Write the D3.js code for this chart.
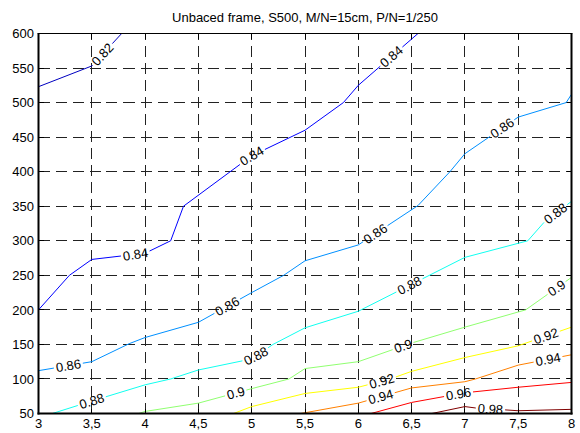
<!DOCTYPE html>
<html><head><meta charset="utf-8">
<script src="https://cdn.jsdelivr.net/npm/d3@7/dist/d3.min.js"></script>
<style>
body{margin:0;background:#fff}
text{font-family:"Liberation Sans",Arial,Helvetica,sans-serif;fill:#000}
</style>
</head><body>
<svg id="chart" width="580" height="433"></svg>
<script>
// ---------- data ----------
const title = "Unbaced frame, S500, M/N=15cm, P/N=1/250";
const xTicks = [3, 3.5, 4, 4.5, 5, 5.5, 6, 6.5, 7, 7.5, 8];
const xTickLabels = ["3", "3,5", "4", "4,5", "5", "5,5", "6", "6,5", "7", "7,5", "8"];
const yTicks = [50, 100, 150, 200, 250, 300, 350, 400, 450, 500, 550, 600];
const yTickLabels = ["50", "100", "150", "200", "250", "300", "350", "400", "450", "500", "550", "600"];
const levels = [0.82, 0.84, 0.86, 0.88, 0.9, 0.92, 0.94, 0.96, 0.98];

const c082 = [[3, 523], [3.5, 553], [3.78, 600]];
const c084 = [[3, 200], [3.29, 250], [3.5, 273], [4, 282], [4.24, 300], [4.36, 350], [5, 423], [5.5, 460], [5.86, 500], [6, 525], [6.56, 600]];
const c086 = [[3, 112], [3.5, 125], [3.85, 151], [4, 160], [4.5, 182], [5, 225], [5.3, 250], [5.5, 271], [6, 294], [6.56, 351], [6.86, 400], [7, 426], [7.5, 479], [7.95, 500], [8, 512]];
const c088 = [[3.13, 50], [3.5, 68], [4, 91.5], [4.24, 100], [4.5, 113], [5, 129], [5.2, 150], [5.5, 174], [6, 198], [7, 276], [7.59, 300], [7.75, 328], [8, 357]];
const c090 = [[3.94, 50], [4, 53], [4.5, 65], [5, 86], [5.35, 100], [5.5, 115], [6, 125], [6.5, 152], [7, 175], [7.57, 200], [8, 247]];
const c092 = [[4.83, 50], [5, 60], [5.5, 79], [6, 88], [6.3, 100], [6.5, 111], [7, 131], [7.5, 148], [8, 175]];
const c094 = [[5.46, 50], [6, 65], [6.5, 87], [7, 96], [7.1, 100], [7.5, 120], [8, 135]];
const c096 = [[6.12, 50], [6.5, 66], [7, 80], [7.5, 88], [8, 95]];
const c098 = [[6.69, 50], [7, 60], [7.1, 58], [7.5, 54], [8, 56]];
const contourLines = [c082, c084, c086, c088, c090, c092, c094, c096, c098];

// label placements (level, x position along the line)
const labelLevels = [0.82, 0.84, 0.84, 0.84, 0.86, 0.86, 0.86, 0.86, 0.88, 0.88, 0.88, 0.88, 0.9, 0.9, 0.9, 0.92, 0.92, 0.94, 0.94, 0.96, 0.98];
const labelX      = [3.60, 3.91, 5.00, 6.31, 3.28, 4.77, 6.16, 7.35, 3.50, 5.04, 6.48, 7.85, 4.85, 6.42, 7.86, 6.22, 7.76, 6.21, 7.78, 6.94, 7.24];

// ---------- styles ----------
const levelColors = ["#0000c0", "#0000ff", "#0090ff", "#10fff0", "#90ff70", "#ffff00", "#ff8000", "#ff0000", "#800000"];

const svg = d3.select("#chart");
const L = 38.5, R = 571.5, T = 33.5, B = 413.5;
const x = d3.scaleLinear().domain([3, 8]).range([L, R]);
const y = d3.scaleLinear().domain([50, 600]).range([B, T]);
const color = d3.scaleOrdinal().domain(levels).range(levelColors);

svg.append("rect").attr("width", 580).attr("height", 433).attr("fill", "#fff");

// title
svg.append("text").attr("x", (L + R) / 2).attr("y", 22).attr("text-anchor", "middle")
  .attr("font-size", 13).text(title);

// grid
const grid = svg.append("g").attr("stroke", "#222").attr("stroke-width", 1)
  .attr("stroke-dasharray", "11,6").attr("shape-rendering", "crispEdges");
xTicks.filter(v => v > 3 && v < 8).forEach(v => {
  grid.append("line").attr("x1", x(v)).attr("x2", x(v)).attr("y1", B).attr("y2", T);
});
yTicks.filter(v => v > 50 && v < 600).forEach(v => {
  grid.append("line").attr("x1", L).attr("x2", R).attr("y1", y(v)).attr("y2", y(v));
});

// contours with labels
const lineGen = d3.line().x(d => x(d[0])).y(d => y(d[1]));
const cg = svg.append("g");
const lg = svg.append("g");
contourLines.forEach((pts, i) => {
  const lev = levels[i];
  const p = cg.append("path").attr("d", lineGen(pts)).attr("fill", "none")
    .attr("stroke", color(lev)).attr("stroke-width", 1);
  const node = p.node();
  const len = node.getTotalLength();
  const gaps = [];
  labelLevels.forEach((ll, j) => {
    if (ll !== lev) return;
    const tx = x(labelX[j]);
    let lo = 0, hi = len;
    for (let k = 0; k < 40; k++) {
      const mid = (lo + hi) / 2;
      if (node.getPointAtLength(mid).x < tx) lo = mid; else hi = mid;
    }
    const s = (lo + hi) / 2;
    const t = lg.append("text").attr("font-size", 13).attr("text-anchor", "middle")
      .attr("dy", "0.35em").text(String(lev));
    const w = t.node().getComputedTextLength();
    const hw = w / 2 + 2;
    const a = node.getPointAtLength(Math.max(0, s - hw));
    const b = node.getPointAtLength(Math.min(len, s + hw));
    const ang = Math.atan2(b.y - a.y, b.x - a.x) * 180 / Math.PI;
    const pt = node.getPointAtLength(s);
    t.attr("transform", `translate(${pt.x},${pt.y}) rotate(${ang})`);
    gaps.push([Math.max(0, s - hw), Math.min(len, s + hw)]);
  });
  if (gaps.length) {
    gaps.sort((a, b) => a[0] - b[0]);
    const da = [];
    let pos = 0;
    gaps.forEach(g => { da.push(Math.max(0, g[0] - pos), g[1] - g[0]); pos = g[1]; });
    da.push(Math.max(0, len - pos), len + 10);
    p.attr("stroke-dasharray", da.join(","));
  }
});

// frame
const fr = svg.append("g").attr("stroke", "#000").attr("fill", "none");
fr.append("line").attr("x1", L - 1).attr("x2", R + 1).attr("y1", T).attr("y2", T).attr("stroke-width", 1);
fr.append("line").attr("x1", L - 1).attr("x2", R + 1).attr("y1", B).attr("y2", B).attr("stroke-width", 2);
fr.append("line").attr("x1", L).attr("x2", L).attr("y1", T).attr("y2", B + 1).attr("stroke-width", 2);
fr.append("line").attr("x1", R).attr("x2", R).attr("y1", T).attr("y2", B + 1).attr("stroke-width", 2);

// ticks (inward) on all sides
const tk = svg.append("g").attr("stroke", "#000").attr("stroke-width", 1).attr("shape-rendering", "crispEdges");
xTicks.forEach(v => {
  tk.append("line").attr("x1", x(v)).attr("x2", x(v)).attr("y1", B).attr("y2", B - 5);
  tk.append("line").attr("x1", x(v)).attr("x2", x(v)).attr("y1", T).attr("y2", T + 5);
});
yTicks.forEach(v => {
  tk.append("line").attr("x1", L).attr("x2", L + 5).attr("y1", y(v)).attr("y2", y(v));
  tk.append("line").attr("x1", R).attr("x2", R - 5).attr("y1", y(v)).attr("y2", y(v));
});

// tick labels
xTicks.forEach((v, i) => {
  svg.append("text").attr("x", x(v)).attr("y", 428).attr("text-anchor", "middle")
    .attr("font-size", 13).text(xTickLabels[i]);
});
yTicks.forEach((v, i) => {
  svg.append("text").attr("x", 34).attr("y", y(v)).attr("dy", "0.36em").attr("text-anchor", "end")
    .attr("font-size", 13).text(yTickLabels[i]);
});
</script>
</body></html>
